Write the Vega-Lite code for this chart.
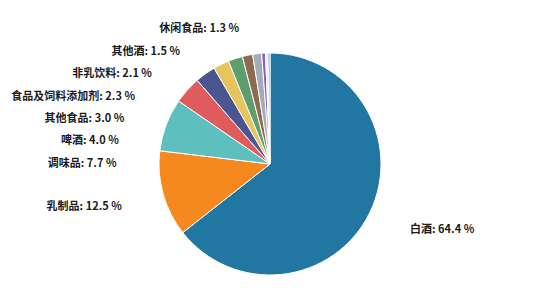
{
  "$schema": "https://vega.github.io/schema/vega-lite/v6.json",
  "width": 540,
  "height": 252,
  "autosize": {"type": "none"},
  "padding": {"left": 0, "top": 38, "right": 9, "bottom": 0},
  "background": "white",
  "config": {"view": {"stroke": null}},
  "data": {
    "values": [
      {"category": "白酒", "share": 64.4, "order": 0},
      {"category": "乳制品", "share": 12.5, "order": 1},
      {"category": "调味品", "share": 7.7, "order": 2},
      {"category": "啤酒", "share": 4.0, "order": 3},
      {"category": "其他食品", "share": 3.0, "order": 4},
      {"category": "食品及饲料添加剂", "share": 2.3, "order": 5},
      {"category": "非乳饮料", "share": 2.1, "order": 6},
      {"category": "其他酒", "share": 1.5, "order": 7},
      {"category": "休闲食品", "share": 1.3, "order": 8},
      {"category": "保健食品", "share": 0.55, "order": 9},
      {"category": "罐头食品", "share": 0.35, "order": 10},
      {"category": "其他", "share": 0.3, "order": 11}
    ]
  },
  "transform": [
    {"calculate": "datum.category + ': ' + format(datum.share, '.1f') + ' %'", "as": "label"}
  ],
  "layer": [
    {
      "mark": {"type": "arc", "outerRadius": 111, "stroke": "white", "strokeWidth": 1},
      "encoding": {
        "theta": {"field": "share", "type": "quantitative", "stack": true},
        "order": {"field": "order", "type": "quantitative"},
        "color": {
          "field": "category",
          "type": "nominal",
          "legend": null,
          "scale": {
            "domain": ["白酒", "乳制品", "调味品", "啤酒", "其他食品", "食品及饲料添加剂", "非乳饮料", "其他酒", "休闲食品", "保健食品", "罐头食品", "其他"],
            "range": ["#2176a2", "#f5891f", "#5ebfbf", "#e05b5b", "#4b5690", "#e8c55c", "#5c9e70", "#8e6b50", "#a3adb8", "#8e5db6", "#e3e8ee", "#5ab4e5"]
          }
        }
      }
    },
    {
      "transform": [{"filter": "datum.order == 0"}],
      "mark": {"type": "text", "align": "left", "baseline": "middle", "dy": 2, "fontSize": 11, "font": "Noto Sans CJK SC", "fontWeight": 600, "fill": "#1a1a1a"},
      "encoding": {
        "theta": {"field": "order", "type": "quantitative", "scale": {"type": "linear", "domain": [0, 1, 2, 3, 4, 5, 6, 7, 8], "range": [2.0, 4.442, 4.725, 4.875, 5.023, 5.185, 5.374, 5.615, 6.061]}},
        "radius": {"field": "order", "type": "quantitative", "scale": {"type": "linear", "zero": false, "domain": [0, 4, 5, 6, 7, 8], "range": [154, 153, 151.6, 149.6, 145, 140.5]}},
        "text": {"field": "label", "type": "nominal"}
      }
    },
    {
      "transform": [{"filter": "datum.order >= 1 && datum.order <= 8"}],
      "mark": {"type": "text", "align": "right", "baseline": "middle", "dy": 2, "fontSize": 11, "font": "Noto Sans CJK SC", "fontWeight": 600, "fill": "#1a1a1a"},
      "encoding": {
        "theta": {"field": "order", "type": "quantitative", "scale": {"type": "linear", "domain": [0, 1, 2, 3, 4, 5, 6, 7, 8], "range": [2.0, 4.442, 4.725, 4.875, 5.023, 5.185, 5.374, 5.615, 6.061]}},
        "radius": {"field": "order", "type": "quantitative", "scale": {"type": "linear", "zero": false, "domain": [0, 4, 5, 6, 7, 8], "range": [154, 153, 151.6, 149.6, 145, 140.5]}},
        "text": {"field": "label", "type": "nominal"}
      }
    }
  ],
  "resolve": {"scale": {"theta": "independent", "radius": "independent"}}
}
